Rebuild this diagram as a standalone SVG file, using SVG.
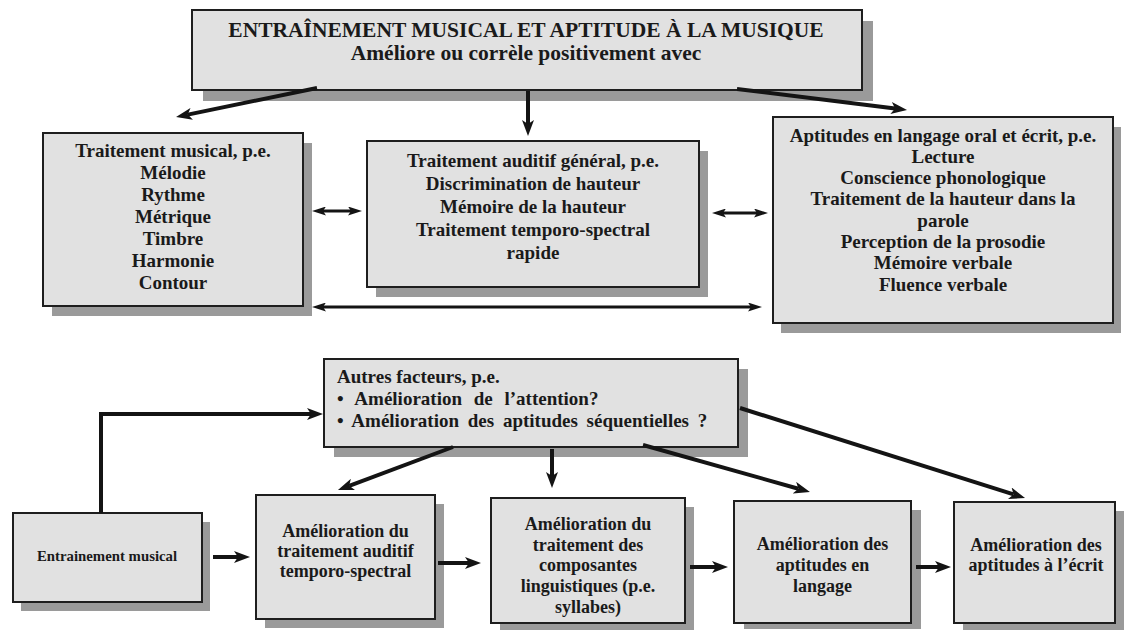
<svg xmlns="http://www.w3.org/2000/svg" width="1127" height="630" viewBox="0 0 1127 630">
<style>
.box{fill:#e1e1e1;stroke:#1e1e1e;stroke-width:2}
.sh{fill:#9a9a9a}
text{font-family:"Liberation Serif","Times New Roman",serif;font-weight:bold;fill:#1a1a1a}
.c{text-anchor:middle}
.t19{font-size:19px}
.t18{font-size:18px}
.arr{fill:none;stroke:#141414;stroke-width:4;marker-end:url(#ah)}
.dbl{fill:none;stroke:#141414;stroke-width:3;marker-start:url(#ah2);marker-end:url(#ah2)}
</style>
<defs>
<marker id="ah" viewBox="0 0 16 12" refX="4" refY="6" markerWidth="16" markerHeight="12" markerUnits="userSpaceOnUse" orient="auto"><path d="M0,0 L16,6 L0,12 L4,6 z" fill="#141414"/></marker>
<marker id="ah2" viewBox="0 0 14 9" refX="3" refY="4.5" markerWidth="14" markerHeight="9" markerUnits="userSpaceOnUse" orient="auto-start-reverse"><path d="M0,0 L14,4.5 L0,9 L3,4.5 z" fill="#141414"/></marker>
</defs>
<rect width="1127" height="630" fill="#ffffff"/>

<g id="top">
<rect class="sh" x="203" y="21" width="670" height="80"/>
<rect class="box" x="192" y="10" width="670" height="80"/>
<text class="c" x="526" y="37" font-size="21.5">ENTRAÎNEMENT MUSICAL ET APTITUDE À LA MUSIQUE</text>
<text class="c" x="526" y="60" font-size="21.5">Améliore ou corrèle positivement avec</text>
</g>

<g id="musical">
<rect class="sh" x="52" y="143" width="260" height="173"/>
<rect class="box" x="43" y="133" width="260" height="173"/>
<text class="c t19" x="173" y="157">Traitement musical, p.e.</text>
<text class="c t19" x="173" y="179">Mélodie</text>
<text class="c t19" x="173" y="201">Rythme</text>
<text class="c t19" x="173" y="223">Métrique</text>
<text class="c t19" x="173" y="245">Timbre</text>
<text class="c t19" x="173" y="267">Harmonie</text>
<text class="c t19" x="173" y="289">Contour</text>
</g>

<g id="auditif">
<rect class="sh" x="376" y="151" width="332" height="146"/>
<rect class="box" x="367" y="141" width="332" height="146"/>
<text class="c t19" x="533" y="167">Traitement auditif général, p.e.</text>
<text class="c t19" x="533" y="190">Discrimination de hauteur</text>
<text class="c t19" x="533" y="213">Mémoire de la hauteur</text>
<text class="c t19" x="533" y="236">Traitement temporo-spectral</text>
<text class="c t19" x="533" y="259">rapide</text>
</g>

<g id="langage">
<rect class="sh" x="781" y="127" width="340" height="206"/>
<rect class="box" x="773" y="117" width="340" height="206"/>
<text class="c t19" x="943" y="141.5">Aptitudes en langage oral et écrit, p.e.</text>
<text class="c t19" x="943" y="162.8">Lecture</text>
<text class="c t19" x="943" y="184.1">Conscience phonologique</text>
<text class="c t19" x="943" y="205.4">Traitement de la hauteur dans la</text>
<text class="c t19" x="943" y="226.7">parole</text>
<text class="c t19" x="943" y="248">Perception de la prosodie</text>
<text class="c t19" x="943" y="269.3">Mémoire verbale</text>
<text class="c t19" x="943" y="290.6">Fluence verbale</text>
</g>

<g id="autres">
<rect class="sh" x="334" y="369" width="414" height="88"/>
<rect class="box" x="324" y="359" width="414" height="88"/>
<text class="t19" x="337" y="383">Autres facteurs, p.e.</text>
<text class="t19" x="337" y="405" word-spacing="7">• Amélioration de l’attention?</text>
<text class="t19" x="337" y="427" word-spacing="4">• Amélioration des aptitudes séquentielles ?</text>
</g>

<g id="entrainement">
<rect class="sh" x="21" y="522" width="189" height="89"/>
<rect class="box" x="13" y="513" width="189" height="89"/>
<text class="c" x="107" y="561" font-size="14.8">Entrainement musical</text>
</g>

<g id="amelio-auditif">
<rect class="sh" x="265" y="504" width="179" height="124"/>
<rect class="box" x="256" y="495" width="179" height="124"/>
<text class="c t18" x="345.5" y="537">Amélioration du</text>
<text class="c t18" x="345.5" y="557">traitement auditif</text>
<text class="c t18" x="345.5" y="577">temporo-spectral</text>
</g>

<g id="amelio-linguistique">
<rect class="sh" x="500" y="507" width="194" height="123"/>
<rect class="box" x="491" y="498" width="194" height="125"/>
<text class="c t18" x="588" y="530">Amélioration du</text>
<text class="c t18" x="588" y="551">traitement des</text>
<text class="c t18" x="588" y="571">composantes</text>
<text class="c t18" x="588" y="592">linguistiques (p.e.</text>
<text class="c t18" x="588" y="613">syllabes)</text>
</g>

<g id="amelio-langage">
<rect class="sh" x="744" y="510" width="177" height="119"/>
<rect class="box" x="734" y="501" width="177" height="122"/>
<text class="c t18" x="822.5" y="550">Amélioration des</text>
<text class="c t18" x="822.5" y="571">aptitudes en</text>
<text class="c t18" x="822.5" y="592">langage</text>
</g>

<g id="amelio-ecrit">
<rect class="sh" x="963" y="511" width="161" height="119"/>
<rect class="box" x="954" y="502" width="161" height="121"/>
<text class="c t18" x="1036" y="551">Amélioration des</text>
<text class="c t18" x="1036" y="571">aptitudes à l’écrit</text>
</g>

<g id="connectors">
<path class="arr" d="M317,88 L187.8,114.6"/>
<path class="arr" d="M528,91 L528,124"/>
<path class="arr" d="M737,89 L895.1,108.5"/>
<path class="dbl" d="M323,211 L351,211"/>
<path class="dbl" d="M723,213 L757,213"/>
<path class="dbl" d="M323,307 L751,307"/>
<path class="arr" d="M101,513 L101,414 L311,414"/>
<path class="arr" stroke-width="4.5" d="M213,557 L238,557"/>
<path class="arr" stroke-width="4.5" d="M438,563 L469,563"/>
<path class="arr" stroke-width="4.5" d="M690,567 L716,567"/>
<path class="arr" stroke-width="4.5" d="M916,567 L939,567"/>
<path class="arr" d="M453,447 L349.2,485.8"/>
<path class="arr" d="M552,449 L552,476"/>
<path class="arr" d="M643,445 L798.4,488.7"/>
<path class="arr" d="M740,408 L1013.6,494.4"/>
</g>
</svg>
